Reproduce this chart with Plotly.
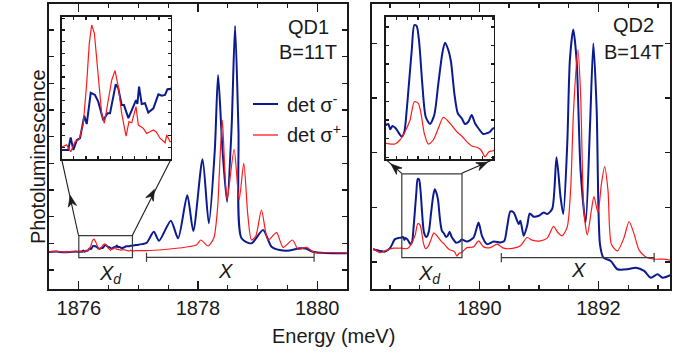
import math
import plotly.graph_objects as go

W, H = 685, 354

# ---------------- data (energy in meV, PL intensity in arb. units) ----------------
qd1_E_minus = [1875.50, 1875.62, 1875.75, 1875.88, 1875.95,
               1876.005, 1876.054, 1876.074, 1876.096, 1876.124, 1876.151, 1876.186, 1876.206,
               1876.239, 1876.274, 1876.301, 1876.343, 1876.376, 1876.398, 1876.445, 1876.466,
               1876.494, 1876.513, 1876.549, 1876.585, 1876.612, 1876.623, 1876.637, 1876.659,
               1876.686, 1876.713, 1876.755, 1876.796, 1876.824, 1876.851, 1876.870, 1876.892,
               1876.968, 1877.060, 1877.141, 1877.258, 1877.347, 1877.544, 1877.666, 1877.820,
               1877.921, 1878.076, 1878.181, 1878.282, 1878.337, 1878.411, 1878.488, 1878.562,
               1878.622, 1878.679, 1878.730, 1878.898, 1879.092, 1879.233, 1879.372, 1879.540,
               1879.708, 1879.809, 1879.926, 1880.128, 1880.497]
qd1_I_minus = [0.675, 0.690, 0.665, 0.680, 0.690,
               0.686, 0.686, 0.733, 0.686, 0.723, 0.730, 0.814, 0.783,
               0.900, 0.892, 0.867, 0.796, 0.823, 0.823, 0.932, 0.917,
               0.854, 0.854, 0.805, 0.848, 0.873, 0.858, 0.923, 0.858,
               0.861, 0.826, 0.842, 0.894, 0.889, 0.892, 0.913, 0.913,
               0.937, 0.970, 1.024, 1.436, 1.099, 1.849, 1.189, 2.805,
               1.462, 4.151, 1.751, 4.500, 7.312, 4.500, 2.561, 5.250,
               9.149, 5.250, 1.189, 1.001, 1.500, 0.874, 0.750, 0.731,
               0.814, 0.806, 0.686, 0.637, 0.626]

qd1_E_plus = [1875.50, 1875.62, 1875.75, 1875.88, 1875.95,
              1876.005, 1876.041, 1876.074, 1876.110, 1876.145, 1876.178, 1876.206, 1876.227,
              1876.247, 1876.269, 1876.301, 1876.329, 1876.351, 1876.384, 1876.412, 1876.439,
              1876.466, 1876.494, 1876.530, 1876.554, 1876.577, 1876.612, 1876.631, 1876.672,
              1876.700, 1876.727, 1876.755, 1876.777, 1876.810, 1876.851, 1876.865, 1876.892,
              1877.000, 1877.191, 1877.527, 1877.862, 1877.980, 1878.047, 1878.169, 1878.265,
              1878.332, 1878.355, 1878.408, 1878.450, 1878.488, 1878.606, 1878.690, 1878.768,
              1878.836, 1878.898, 1878.970, 1879.065, 1879.176, 1879.317, 1879.428, 1879.586,
              1879.680, 1879.820, 1879.960, 1880.211, 1880.497]
qd1_I_plus = [0.680, 0.700, 0.670, 0.690, 0.680,
              0.698, 0.705, 0.679, 0.717, 0.726, 0.786, 0.936, 1.085,
              1.154, 1.123, 0.960, 0.823, 0.786, 0.867, 0.948, 0.983,
              0.923, 0.823, 0.738, 0.792, 0.788, 0.848, 0.779, 0.767,
              0.748, 0.754, 0.761, 0.754, 0.730, 0.713, 0.742, 0.717,
              0.730, 0.731, 0.787, 0.881, 0.950, 1.125, 0.900, 1.200,
              2.437, 3.500, 5.624, 3.750, 2.625, 4.526, 2.625, 4.001,
              2.060, 1.125, 1.270, 2.250, 1.125, 1.399, 0.851, 1.125,
              0.776, 0.851, 0.649, 0.656, 0.637]

qd2_E_minus = [1888.221, 1888.333, 1888.418, 1888.502, 1888.586, 1888.650,
               1888.700, 1888.724, 1888.743, 1888.762, 1888.793, 1888.824, 1888.849, 1888.874,
               1888.896, 1888.917, 1888.943, 1888.967, 1888.989, 1889.013, 1889.041, 1889.073,
               1889.113, 1889.153, 1889.191, 1889.228, 1889.253, 1889.284, 1889.309, 1889.340,
               1889.372, 1889.409, 1889.440, 1889.471, 1889.502, 1889.533, 1889.564, 1889.610,
               1889.642, 1889.673, 1889.704,
               1889.793, 1889.904, 1889.988, 1890.045, 1890.130, 1890.241, 1890.354, 1890.421,
               1890.466, 1890.522, 1890.577, 1890.662, 1890.690, 1890.746, 1890.803, 1890.847,
               1890.914, 1890.998, 1891.082, 1891.140, 1891.224, 1891.296, 1891.364, 1891.409,
               1891.476, 1891.520, 1891.577, 1891.633, 1891.700, 1891.785, 1891.857, 1891.914,
               1891.970, 1892.025, 1892.083, 1892.205, 1892.318, 1892.487, 1892.626, 1892.766,
               1892.879, 1892.992, 1893.076, 1893.215]
qd2_I_minus = [0.233, 0.202, 0.189, 0.251, 0.417, 0.440,
               0.447, 0.458, 0.401, 0.436, 0.412, 0.358, 0.321, 0.375,
               0.608, 0.894, 1.252, 1.520, 1.509, 1.324, 0.894, 0.536,
               0.458, 0.554, 0.894, 1.216, 1.330, 1.252, 1.126, 0.787,
               0.573, 0.519, 0.458, 0.482, 0.554, 0.465, 0.412, 0.350,
               0.358, 0.375, 0.412,
               0.372, 0.446, 0.721, 0.477, 0.325, 0.372, 0.354, 0.385,
               0.629, 0.923, 0.905, 0.692, 0.752, 0.477, 0.661, 0.886,
               0.826, 0.844, 0.905, 0.875, 0.972, 1.914, 1.180, 0.875,
               2.160, 3.688, 4.251, 3.688, 1.670, 0.721, 2.464, 3.994,
               2.771, 0.325, 0.079, 0.018, -0.134, -0.134, -0.105, -0.165,
               -0.288, -0.226, -0.288, -0.239]

qd2_E_plus = [1888.221, 1888.333, 1888.446, 1888.557, 1888.650,
              1888.700, 1888.740, 1888.787, 1888.833, 1888.880, 1888.927, 1888.967, 1889.004,
              1889.029, 1889.060, 1889.097, 1889.144, 1889.191, 1889.237, 1889.278, 1889.321,
              1889.362, 1889.409, 1889.456, 1889.502, 1889.549, 1889.589, 1889.626, 1889.664,
              1889.704,
              1889.793, 1889.904, 1889.988, 1890.072, 1890.185, 1890.298, 1890.409, 1890.577,
              1890.690, 1890.803, 1890.887, 1891.027, 1891.140, 1891.246, 1891.318, 1891.392,
              1891.476, 1891.532, 1891.582, 1891.655, 1891.700, 1891.755, 1891.813, 1891.880,
              1891.924, 1891.992, 1892.049, 1892.104, 1892.160, 1892.217, 1892.318, 1892.429,
              1892.513, 1892.598, 1892.682, 1892.795, 1892.934, 1893.076, 1893.204]
qd2_I_plus = [0.251, 0.171, 0.215, 0.251, 0.250,
              0.251, 0.243, 0.243, 0.286, 0.375, 0.501, 0.697, 0.680,
              0.573, 0.358, 0.243, 0.286, 0.412, 0.530, 0.493, 0.436,
              0.375, 0.329, 0.268, 0.222, 0.208, 0.179, 0.107, 0.161,
              0.171,
              0.262, 0.275, 0.385, 0.275, 0.262, 0.325, 0.251, 0.251,
              0.294, 0.446, 0.398, 0.385, 0.435, 0.651, 0.538, 0.477,
              0.642, 1.303, 2.771, 3.884, 3.077, 0.936, 0.495, 0.936,
              1.193, 0.905, 1.426, 1.743, 1.303, 0.325, 0.202, 0.446,
              0.739, 0.508, 0.215, 0.092, 0.050, 0.050, 0.031]

qd1_xticks = [1876, 1878, 1880]
qd2_xticks = [1890, 1892]
qd1_zoom_E = [1876.0, 1876.9]
qd1_zoom_I = [0.461, 1.286]
qd1_inset_I = [0.651, 1.185]
qd2_zoom_E = [1888.7, 1889.71]
qd2_zoom_I = [0.079, 1.609]
qd1_X_band = [1877.136, 1879.948]
qd1_X_level = 0.476
qd2_X_band = [1890.37, 1892.934]
qd2_X_level = 0.079

BLUE = "#0b1b8f"
RED = "#ff1a1a"
INK = "#1a1a1a"
GREY = "#3a3a3a"
FONT = "Liberation Sans, Arial, sans-serif"


def pxx(x):
    return x / W


def pxy(y):
    return 1 - y / H


fig = go.Figure()

for E, I, col, wd, xa, ya, shp in [
    (qd1_E_minus, qd1_I_minus, BLUE, 2.0, "x", "y", "spline"),
    (qd1_E_plus, qd1_I_plus, RED, 1.2, "x", "y", "spline"),
    (qd2_E_minus, qd2_I_minus, BLUE, 2.0, "x2", "y2", "spline"),
    (qd2_E_plus, qd2_I_plus, RED, 1.2, "x2", "y2", "spline"),
    (qd1_E_minus, qd1_I_minus, BLUE, 2.0, "x3", "y3", "linear"),
    (qd1_E_plus, qd1_I_plus, RED, 1.2, "x3", "y3", "linear"),
    (qd2_E_minus, qd2_I_minus, BLUE, 2.0, "x4", "y4", "spline"),
    (qd2_E_plus, qd2_I_plus, RED, 1.2, "x4", "y4", "spline"),
]:
    fig.add_trace(go.Scatter(x=E, y=I, mode="lines", xaxis=xa, yaxis=ya,
                             line=dict(color=col, width=wd, shape=shp, smoothing=0.7),
                             showlegend=False, hoverinfo="skip"))

frame = dict(showline=True, linecolor=INK, linewidth=1.6, mirror="ticks", ticks="inside",
             tickcolor=INK, tickwidth=1.3, showgrid=False, zeroline=False)
ydom = [pxy(289), pxy(4)]
indom_y = [pxy(159.3), pxy(16.7)]

fig.update_layout(
    width=W, height=H, margin=dict(l=0, r=0, t=0, b=0),
    paper_bgcolor="white", plot_bgcolor="white",
    font=dict(family=FONT, size=20, color=INK),
    xaxis=dict(frame, domain=[pxx(49), pxx(347)], range=[1875.5, 1880.5], anchor="y",
               tickmode="array", tickvals=qd1_xticks, ticklen=8,
               minor=dict(dtick=0.5, tick0=1876, ticklen=4, ticks="inside", tickcolor=INK),
               tickfont=dict(size=20)),
    yaxis=dict(frame, domain=ydom, range=[-0.712, 9.974], anchor="x", dtick=1, tick0=0,
               ticklen=5, showticklabels=False),
    xaxis2=dict(frame, domain=[pxx(372), pxx(670)], range=[1888.2, 1893.2], anchor="y2",
                tickmode="array", tickvals=qd2_xticks, ticklen=8,
                minor=dict(dtick=0.5, tick0=1890, ticklen=4, ticks="inside", tickcolor=INK),
                tickfont=dict(size=20)),
    yaxis2=dict(frame, domain=ydom, range=[-0.495, 4.716], anchor="x2", dtick=1, tick0=0,
                ticklen=5, showticklabels=False),
    xaxis3=dict(frame, domain=[pxx(61.7), pxx(171)], range=qd1_zoom_E, anchor="y3",
                dtick=0.1, tick0=1876, ticklen=3, showticklabels=False, linewidth=1.3),
    yaxis3=dict(frame, domain=indom_y, range=qd1_inset_I, anchor="x3", dtick=0.044, tick0=0.651,
                ticklen=3, showticklabels=False, linewidth=1.3),
    xaxis4=dict(frame, domain=[pxx(385.7), pxx(494)], range=qd2_zoom_E, anchor="y4",
                dtick=0.1, tick0=1888.7, ticklen=3, showticklabels=False, linewidth=1.3),
    yaxis4=dict(frame, domain=indom_y, range=qd2_zoom_I, anchor="x4", dtick=0.2, tick0=0.1,
                ticklen=3, showticklabels=False, linewidth=1.3),
)

shapes = []
# zoom boxes
shapes.append(dict(type="rect", xref="x", yref="y", x0=qd1_zoom_E[0], x1=qd1_zoom_E[1],
                   y0=qd1_zoom_I[0], y1=qd1_zoom_I[1], line=dict(color=GREY, width=1.2)))
shapes.append(dict(type="rect", xref="x2", yref="y2", x0=qd2_zoom_E[0], x1=qd2_zoom_E[1],
                   y0=qd2_zoom_I[0], y1=qd2_zoom_I[1], line=dict(color=GREY, width=1.2)))
# bracket for X
for xr, yr, band, lev, tk in [("x", "y", qd1_X_band, qd1_X_level, 0.17),
                              ("x2", "y2", qd2_X_band, qd2_X_level, 0.085)]:
    shapes.append(dict(type="line", xref=xr, yref=yr, x0=band[0], x1=band[1], y0=lev, y1=lev,
                       line=dict(color=GREY, width=1.2)))
    for b in band:
        shapes.append(dict(type="line", xref=xr, yref=yr, x0=b, x1=b, y0=lev - tk, y1=lev + tk,
                           line=dict(color=GREY, width=1.2)))
# connecting lines box -> inset
for (x0, y0, x1, y1) in [(78.5, 235.5, 61.7, 159.3), (132.3, 235.5, 171, 159.3),
                         (401.7, 173.3, 385.7, 159.3), (461.7, 173.3, 494, 159.3)]:
    shapes.append(dict(type="line", xref="paper", yref="paper", x0=pxx(x0), y0=pxy(y0),
                       x1=pxx(x1), y1=pxy(y1), line=dict(color=INK, width=1.1)))


# arrowheads (notched, filled) pointing from the box toward the inset
def head(hx, hy, tx, ty, L=11, w=4.2, notch=3.5):
    dx, dy = hx - tx, hy - ty
    n = math.hypot(dx, dy)
    ux, uy = dx / n, dy / n
    nx, ny = -uy, ux
    bx, by = hx - ux * L, hy - uy * L
    pts = [(hx, hy), (bx + nx * w, by + ny * w), (hx - ux * (L - notch), hy - uy * (L - notch)),
           (bx - nx * w, by - ny * w)]
    p = "M " + " L ".join(f"{pxx(a):.5f},{pxy(b):.5f}" for a, b in pts) + " Z"
    return dict(type="path", xref="paper", yref="paper", path=p, fillcolor=INK,
                line=dict(color=INK, width=0.8))


for (hx, hy, tx, ty) in [(70.2, 195.5, 78.5, 235.5), (154.3, 189.5, 132.3, 235.5),
                         (391.0, 164.0, 401.7, 173.3), (487.5, 162.2, 461.7, 173.3)]:
    shapes.append(head(hx, hy, tx, ty))

# legend lines
shapes.append(dict(type="line", xref="paper", yref="paper", x0=pxx(253), x1=pxx(278),
                   y0=pxy(104), y1=pxy(104), line=dict(color=BLUE, width=2)))
shapes.append(dict(type="line", xref="paper", yref="paper", x0=pxx(253), x1=pxx(278),
                   y0=pxy(135), y1=pxy(135), line=dict(color=RED, width=1.3)))
fig.update_layout(shapes=shapes)

ann = []


def txt(x, y, s, size=20, xa="center", ya="middle"):
    ann.append(dict(x=pxx(x), y=pxy(y), xref="paper", yref="paper", text=s, showarrow=False,
                    font=dict(size=size, family=FONT, color=INK), xanchor=xa, yanchor=ya))


txt(308, 27, "QD1")
txt(308, 52, "B=11T")
txt(633, 25, "QD2")
txt(633, 52, "B=14T")
txt(285, 103, "det σ<sup>-</sup>", xa="left")
txt(285, 134, "det σ<sup>+</sup>", xa="left")
txt(97, 274, "<i>X</i><sub><i>d</i></sub>", xa="left")
txt(416, 274, "<i>X</i><sub><i>d</i></sub>", xa="left")
txt(225, 271, "<i>X</i>")
txt(578, 270, "<i>X</i>")
txt(333, 336, "Energy (meV)")
ann.append(dict(x=pxx(25), y=pxy(157), xref="paper", yref="paper", text="Photoluminescence",
                showarrow=False, textangle=-90, font=dict(size=20, family=FONT, color=INK)))
fig.update_layout(annotations=ann)

fig.write_html("out.html", config={"displayModeBar": False, "staticPlot": True},
               post_script="document.body.style.margin='0px';document.body.style.overflow='hidden';")
